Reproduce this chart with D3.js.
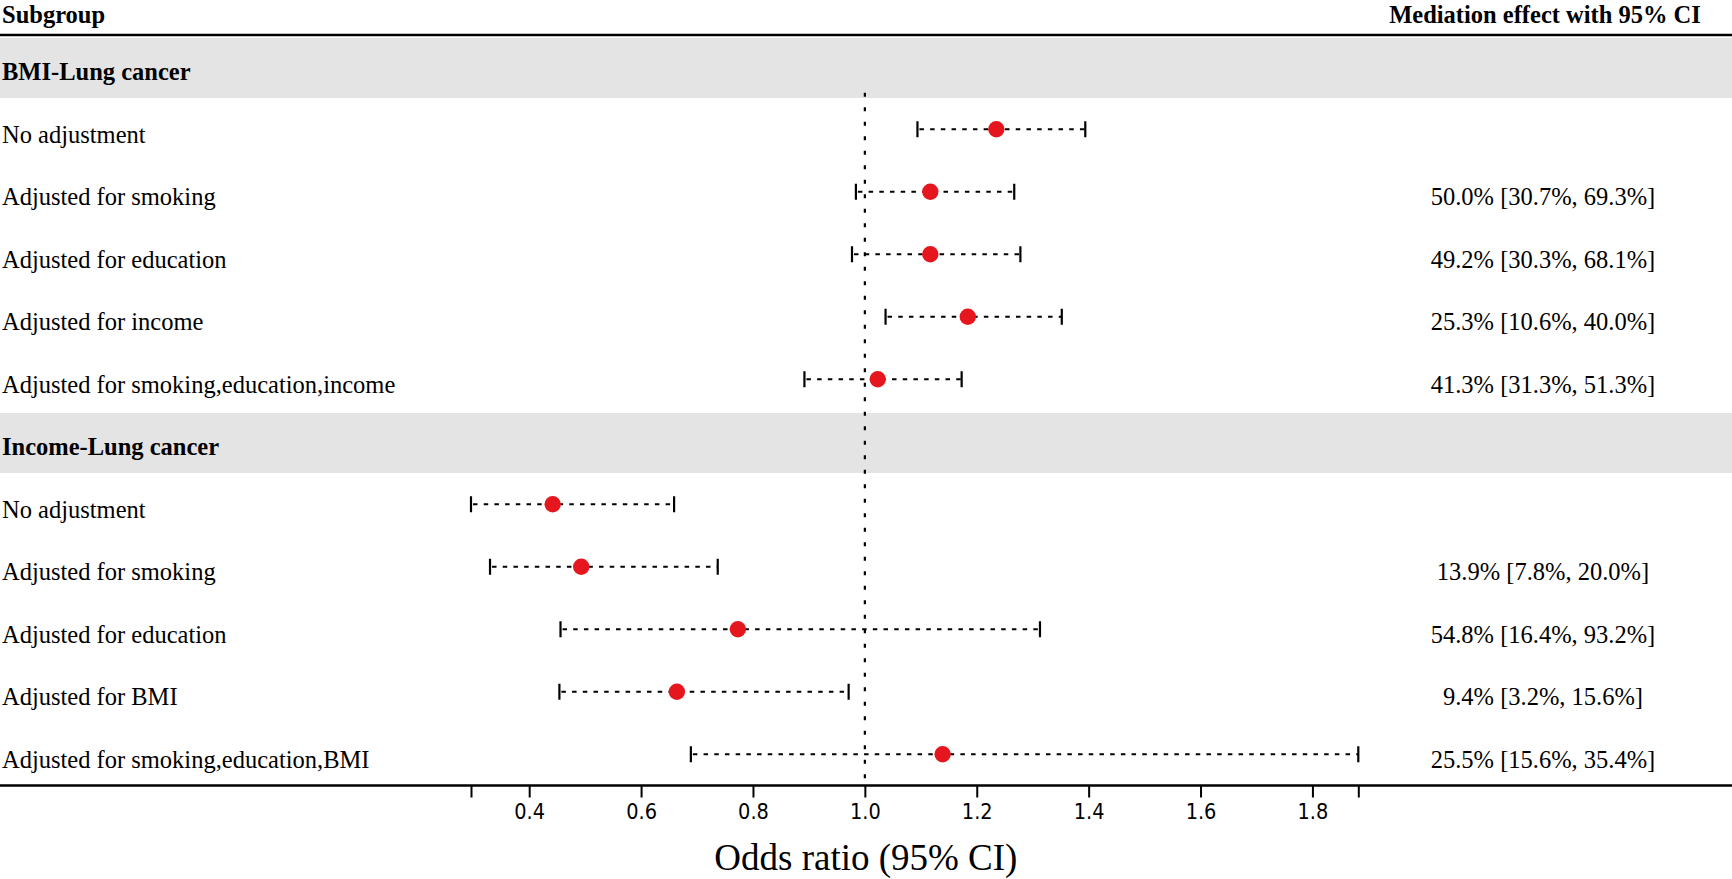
<!DOCTYPE html>
<html>
<head>
<meta charset="utf-8">
<script src="https://cdn.jsdelivr.net/npm/d3@7/dist/d3.min.js"></script>
<style>
  body { margin: 0; background: #fff; }
  svg { display: block; }
</style>
</head>
<body>
<script>
// forest plot: odds ratios with 95% CI per subgroup, mediation effect on the right

var width = 1732;
var height = 879;

// rows, top to bottom (group headers have no estimate)
var rowLabels = ["BMI-Lung cancer", "No adjustment", "Adjusted for smoking", "Adjusted for education",
  "Adjusted for income", "Adjusted for smoking,education,income",
  "Income-Lung cancer", "No adjustment", "Adjusted for smoking", "Adjusted for education",
  "Adjusted for BMI", "Adjusted for smoking,education,BMI"];
var isHeader = [true, false, false, false, false, false, true, false, false, false, false, false];

// odds ratio and its 95% CI
var orMean  = [null, 1.235, 1.117, 1.117, 1.184, 1.023, null, 0.442, 0.493, 0.773, 0.664, 1.139];
var orLower = [null, 1.094, 0.984, 0.977, 1.037, 0.892, null, 0.296, 0.330, 0.456, 0.454, 0.689];
var orUpper = [null, 1.394, 1.267, 1.278, 1.352, 1.173, null, 0.659, 0.737, 1.313, 0.971, 1.882];

// mediation effect column
var mediation = ["", "", "50.0% [30.7%, 69.3%]", "49.2% [30.3%, 68.1%]", "25.3% [10.6%, 40.0%]",
  "41.3% [31.3%, 51.3%]", "", "", "13.9% [7.8%, 20.0%]", "54.8% [16.4%, 93.2%]",
  "9.4% [3.2%, 15.6%]", "25.5% [15.6%, 35.4%]"];

// labelled ticks on the x axis
var tickLabels = [0.4, 0.6, 0.8, 1.0, 1.2, 1.4, 1.6, 1.8];

var serif = "'Liberation Serif', 'Times New Roman', serif";

var svg = d3.select("body")
  .append("svg")
  .attr("width", width)
  .attr("height", height);

// scales
var lo = d3.min(orLower);
var hi = d3.max(orUpper);
var xScale = d3.scaleLinear()
  .domain([lo, hi])
  .range([471, 1358.3]);

var yScale = d3.scaleBand()
  .domain(d3.range(rowLabels.length))
  .range([35.5, 785.5])
  .padding(0);
var rowH = yScale.bandwidth();
function yMid(i) { return yScale(i) + rowH / 2; }

var rows = d3.range(rowLabels.length);
var dataRows = rows.filter(function(i) { return orMean[i] !== null; });

// grey bands behind group headers
svg.selectAll(".band")
  .data(rows.filter(function(i) { return isHeader[i]; }))
  .enter()
  .append("rect")
  .attr("class", "band")
  .attr("x", 0)
  .attr("width", width)
  .attr("y", function(i) { return yScale(i) + 2.5; })
  .attr("height", rowH - 2.5)
  .attr("fill", "#e5e4e5");

// column headers
svg.append("text")
  .attr("x", 2)
  .attr("y", 22.5)
  .attr("font-family", serif)
  .attr("font-weight", "bold")
  .attr("font-size", "24.5px")
  .text("Subgroup");

svg.append("text")
  .attr("x", 1545)
  .attr("y", 22.5)
  .attr("text-anchor", "middle")
  .attr("font-family", serif)
  .attr("font-weight", "bold")
  .attr("font-size", "24.5px")
  .text("Mediation effect with 95% CI");

// line under header
svg.append("line")
  .attr("x1", 0).attr("x2", width)
  .attr("y1", 35).attr("y2", 35)
  .attr("stroke", "#000")
  .attr("stroke-width", 2.5);

// reference line at OR = 1
svg.append("line")
  .attr("x1", xScale(1)).attr("x2", xScale(1))
  .attr("y1", yMid(0) + 26).attr("y2", 785)
  .attr("stroke", "#000")
  .attr("stroke-width", 2.2)
  .attr("stroke-dasharray", "4,10.5");

// row labels
svg.selectAll(".label")
  .data(rows)
  .enter()
  .append("text")
  .attr("class", "label")
  .attr("x", 2)
  .attr("y", function(i) { return yMid(i) + 13.5; })
  .attr("font-family", serif)
  .attr("font-size", "24.5px")
  .attr("font-weight", function(i) { return isHeader[i] ? "bold" : "normal"; })
  .text(function(i) { return rowLabels[i]; });

// mediation text
svg.selectAll(".med")
  .data(rows.filter(function(i) { return mediation[i] !== ""; }))
  .enter()
  .append("text")
  .attr("class", "med")
  .attr("x", 1543)
  .attr("y", function(i) { return yMid(i) + 13.5; })
  .attr("text-anchor", "middle")
  .attr("font-family", serif)
  .attr("font-size", "24.5px")
  .text(function(i) { return mediation[i]; });

// CI lines
svg.selectAll(".ci")
  .data(dataRows)
  .enter()
  .append("line")
  .attr("class", "ci")
  .attr("x1", function(i) { return xScale(orLower[i]) + 2; })
  .attr("x2", function(i) { return xScale(orUpper[i]); })
  .attr("y1", yMid).attr("y2", yMid)
  .attr("stroke", "#000")
  .attr("stroke-width", 2.2)
  .attr("stroke-dasharray", "4.5,6.2");

// whisker caps
var caps = [];
dataRows.forEach(function(i) {
  caps.push([i, orLower[i]]);
  caps.push([i, orUpper[i]]);
});
svg.selectAll(".cap")
  .data(caps)
  .enter()
  .append("line")
  .attr("class", "cap")
  .attr("x1", function(d) { return xScale(d[1]); })
  .attr("x2", function(d) { return xScale(d[1]); })
  .attr("y1", function(d) { return yMid(d[0]) - 8; })
  .attr("y2", function(d) { return yMid(d[0]) + 8; })
  .attr("stroke", "#000")
  .attr("stroke-width", 2.2);

// point estimates
svg.selectAll(".dot")
  .data(dataRows)
  .enter()
  .append("circle")
  .attr("class", "dot")
  .attr("cx", function(i) { return xScale(orMean[i]); })
  .attr("cy", yMid)
  .attr("r", 8.2)
  .attr("fill", "#e6161e");

// bottom line across the page
svg.append("line")
  .attr("x1", 0).attr("x2", width)
  .attr("y1", 785.5).attr("y2", 785.5)
  .attr("stroke", "#000")
  .attr("stroke-width", 2.5);

// x axis, end ticks of the range have no label
var xAxis = d3.axisBottom(xScale)
  .tickValues([lo].concat(tickLabels, [hi]))
  .tickSize(12)
  .tickPadding(6.5)
  .tickFormat(function(d) {
    return tickLabels.indexOf(d) >= 0 ? d3.format(".1f")(d) : "";
  });

var gx = svg.append("g")
  .attr("transform", "translate(0," + 785.5 + ")")
  .call(xAxis);
gx.select(".domain").remove();
gx.selectAll(".tick line")
  .attr("stroke", "#000")
  .attr("stroke-width", 2);
gx.selectAll(".tick text")
  .attr("fill", "#000")
  .attr("font-family", "'DejaVu Sans Condensed', 'DejaVu Sans', sans-serif")
  .attr("font-stretch", "condensed")
  .attr("font-size", "21.5px");

// axis title
svg.append("text")
  .attr("x", xScale(1) + 1)
  .attr("y", 870)
  .attr("text-anchor", "middle")
  .attr("font-family", serif)
  .attr("font-size", "37px")
  .text("Odds ratio (95% CI)");
</script>
</body>
</html>
